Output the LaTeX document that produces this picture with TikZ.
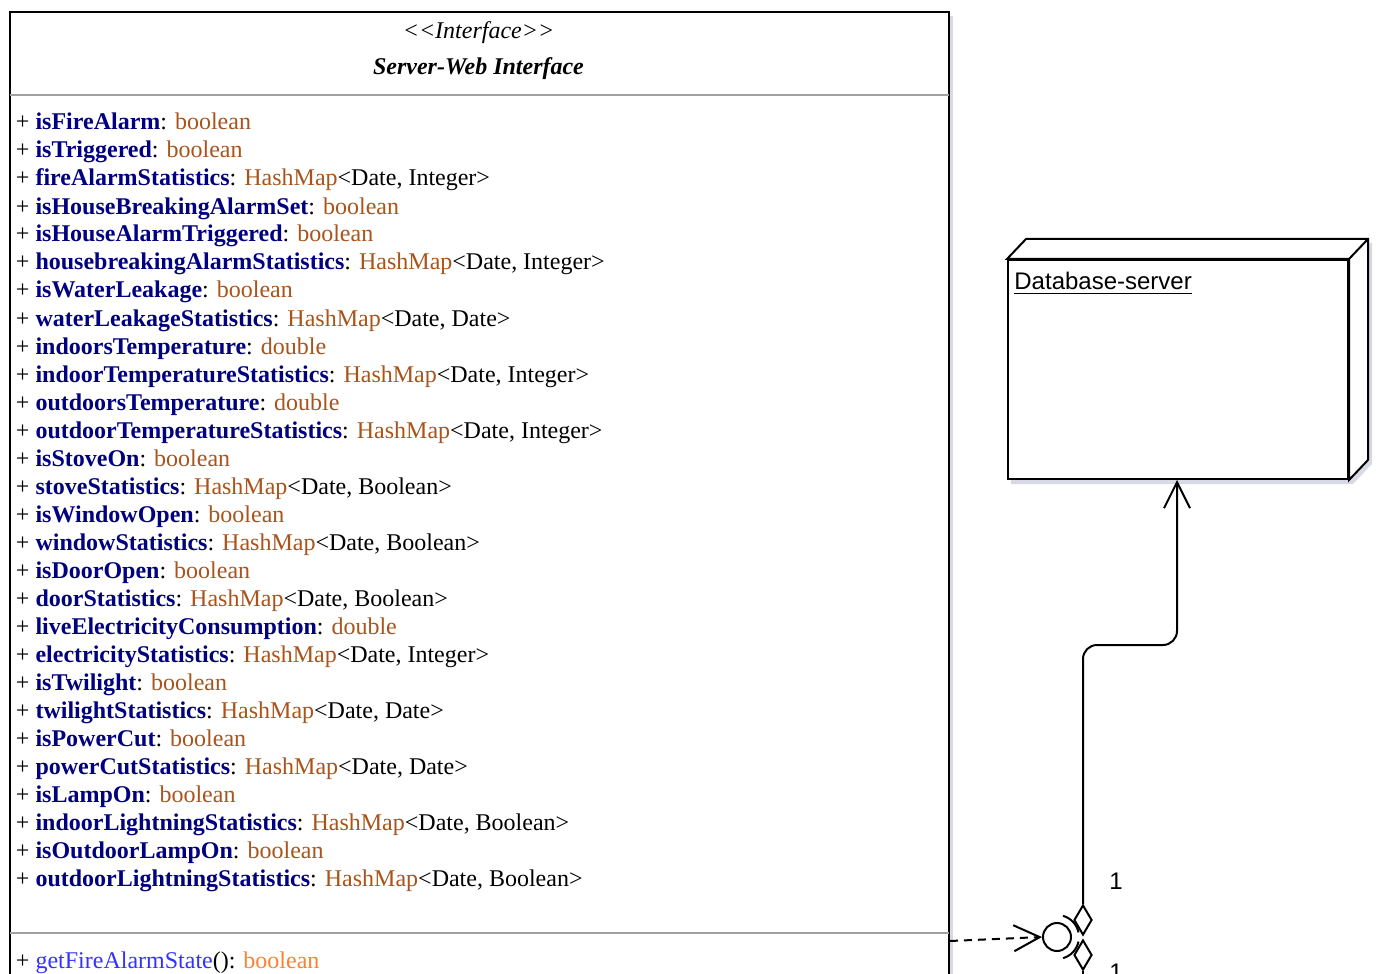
\documentclass[tikz,border=0pt]{standalone}
\usepackage{fontspec}
\setmainfont{Liberation Serif}[Ligatures=TeXOff]
\setsansfont{Liberation Sans}
\usetikzlibrary{shapes,arrows.meta,positioning,calc,shadows,backgrounds}

\definecolor{namecol}{RGB}{0,0,128}
\definecolor{typecol}{RGB}{168,84,28}
\definecolor{opcol}{RGB}{51,51,255}
\definecolor{retcol}{RGB}{255,128,51}
\definecolor{sepcol}{RGB}{160,160,160}
\definecolor{shadecol}{RGB}{190,192,210}

\newcommand{\nm}[1]{\textbf{\textcolor{namecol}{#1}}}
\newcommand{\ty}[1]{\textcolor{typecol}{#1}}

\tikzset{
  umlbox/.style={draw, line width=1pt, fill=white, inner sep=0pt},
  attr/.style={inner sep=0pt, outer sep=0pt, text height=10pt, text depth=4pt, font=\fontsize{12pt}{14pt}\selectfont},
  openhead/.style={-{Straight Barb[length=13pt, width=13pt]}},
  wire/.style={line width=1pt},
  mult/.style={font=\sffamily\fontsize{12pt}{14pt}\selectfont, inner sep=1pt, fill=white}
}

\begin{document}
\begin{tikzpicture}[x=0.5pt, y=-0.5pt, node distance=0pt]
    \useasboundingbox (0,0) rectangle (1394,974);

    % interface class
    \node [umlbox, anchor=north west, minimum width=469.5pt, minimum height=500pt,
           drop shadow={shadow xshift=2pt, shadow yshift=-2pt, fill=shadecol, opacity=0.6}] (iface) at (9,11) {};
    \node [font=\itshape\fontsize{12pt}{14pt}\selectfont] (stereo) at (478.5,33) {<<Interface>>};
    \node [font=\bfseries\itshape\fontsize{12pt}{14pt}\selectfont] (cname) at (478.5,69) {Server-Web Interface};
    \draw [sepcol, line width=1pt, shorten <=0.5pt, shorten >=0.5pt] (iface.west |- 0,95) -- (iface.east |- 0,95);

    \node [attr, anchor=north west] (a1) at (16,110) {+ \nm{isFireAlarm}: \ty{boolean}};
    \node [attr, below=of a1.south west, anchor=north west] (a2) {+ \nm{isTriggered}: \ty{boolean}};
    \node [attr, below=of a2.south west, anchor=north west] (a3) {+ \nm{fireAlarmStatistics}: \ty{HashMap}<Date, Integer>};
    \node [attr, below=of a3.south west, anchor=north west] (a4) {+ \nm{isHouseBreakingAlarmSet}: \ty{boolean}};
    \node [attr, below=of a4.south west, anchor=north west] (a5) {+ \nm{isHouseAlarmTriggered}: \ty{boolean}};
    \node [attr, below=of a5.south west, anchor=north west] (a6) {+ \nm{housebreakingAlarmStatistics}: \ty{HashMap}<Date, Integer>};
    \node [attr, below=of a6.south west, anchor=north west] (a7) {+ \nm{isWaterLeakage}: \ty{boolean}};
    \node [attr, below=of a7.south west, anchor=north west] (a8) {+ \nm{waterLeakageStatistics}: \ty{HashMap}<Date, Date>};
    \node [attr, below=of a8.south west, anchor=north west] (a9) {+ \nm{indoorsTemperature}: \ty{double}};
    \node [attr, below=of a9.south west, anchor=north west] (a10) {+ \nm{indoorTemperatureStatistics}: \ty{HashMap}<Date, Integer>};
    \node [attr, below=of a10.south west, anchor=north west] (a11) {+ \nm{outdoorsTemperature}: \ty{double}};
    \node [attr, below=of a11.south west, anchor=north west] (a12) {+ \nm{outdoorTemperatureStatistics}: \ty{HashMap}<Date, Integer>};
    \node [attr, below=of a12.south west, anchor=north west] (a13) {+ \nm{isStoveOn}: \ty{boolean}};
    \node [attr, below=of a13.south west, anchor=north west] (a14) {+ \nm{stoveStatistics}: \ty{HashMap}<Date, Boolean>};
    \node [attr, below=of a14.south west, anchor=north west] (a15) {+ \nm{isWindowOpen}: \ty{boolean}};
    \node [attr, below=of a15.south west, anchor=north west] (a16) {+ \nm{windowStatistics}: \ty{HashMap}<Date, Boolean>};
    \node [attr, below=of a16.south west, anchor=north west] (a17) {+ \nm{isDoorOpen}: \ty{boolean}};
    \node [attr, below=of a17.south west, anchor=north west] (a18) {+ \nm{doorStatistics}: \ty{HashMap}<Date, Boolean>};
    \node [attr, below=of a18.south west, anchor=north west] (a19) {+ \nm{liveElectricityConsumption}: \ty{double}};
    \node [attr, below=of a19.south west, anchor=north west] (a20) {+ \nm{electricityStatistics}: \ty{HashMap}<Date, Integer>};
    \node [attr, below=of a20.south west, anchor=north west] (a21) {+ \nm{isTwilight}: \ty{boolean}};
    \node [attr, below=of a21.south west, anchor=north west] (a22) {+ \nm{twilightStatistics}: \ty{HashMap}<Date, Date>};
    \node [attr, below=of a22.south west, anchor=north west] (a23) {+ \nm{isPowerCut}: \ty{boolean}};
    \node [attr, below=of a23.south west, anchor=north west] (a24) {+ \nm{powerCutStatistics}: \ty{HashMap}<Date, Date>};
    \node [attr, below=of a24.south west, anchor=north west] (a25) {+ \nm{isLampOn}: \ty{boolean}};
    \node [attr, below=of a25.south west, anchor=north west] (a26) {+ \nm{indoorLightningStatistics}: \ty{HashMap}<Date, Boolean>};
    \node [attr, below=of a26.south west, anchor=north west] (a27) {+ \nm{isOutdoorLampOn}: \ty{boolean}};
    \node [attr, below=of a27.south west, anchor=north west] (a28) {+ \nm{outdoorLightningStatistics}: \ty{HashMap}<Date, Boolean>};

    \draw [sepcol, line width=1pt, shorten <=0.5pt, shorten >=0.5pt] (iface.west |- 0,933) -- (iface.east |- 0,933);
    \node [attr, below=27pt of a28.south west, anchor=north west] (op1) {+ \textcolor{opcol}{getFireAlarmState}(): \textcolor{retcol}{boolean}};

    % database node
    \node [umlbox, anchor=north west, minimum width=170pt, minimum height=109.5pt] (db) at (1007,259) {};
    \node [font=\sffamily\fontsize{12pt}{14pt}\selectfont, anchor=base west, inner sep=0pt] (dbname) at (1014,290) {\underline{Database-server}};
    \draw [wire, fill=white] (db.north west) -- ++(19,-20) -- ($(db.north east)+(19,-20)$)
        -- ($(db.south east)+(19,-20)$) -- (db.south east) -- (db.north east) -- cycle;
    \draw [wire] (db.north east) -- ++(19,-20);
    \begin{scope}[on background layer]
        \fill [shadecol, opacity=0.6] ($(db.north west)+(4,4)$) -- ($(db.north west)+(23,-16)$)
            -- ($(db.north east)+(23,-16)$) -- ($(db.south east)+(23,-16)$)
            -- ($(db.south east)+(4,4)$) -- ($(db.south west)+(4,4)$) -- cycle;
    \end{scope}

    % lollipop, socket and aggregations
    \node [circle, draw, wire, fill=white, minimum size=14pt, inner sep=0pt] (lolli) at (1057,937) {};
    \node [diamond, draw, wire, fill=white, minimum width=9pt, minimum height=15pt, inner sep=0pt] (agg1) at (1083,920) {};
    \node [diamond, draw, wire, fill=white, minimum width=9pt, minimum height=15pt, inner sep=0pt] (agg2) at (1083,955) {};
    \draw [wire] (lolli.center) ++(74:11pt) arc [start angle=74, end angle=12, radius=11pt];
    \draw [wire] (lolli.center) ++(-12:11pt) arc [start angle=-12, end angle=-74, radius=11pt];

    \node [mult] (m1) at (1116,881) {1};
    \node [mult] (m2) at (1116,972) {1};

    \coordinate (dbin) at (db.south -| 1177,0);
    \coordinate (bend) at (1177,645);
    \coordinate (ifout) at (iface.east |- 0,941);
    \coordinate (lowend) at (1083,990);

    \draw [wire, openhead, rounded corners=7pt] (agg1.north) |- (bend) -- (dbin);
    \draw [wire, openhead, dash pattern=on 4pt off 3pt] (ifout) -- (lolli.west);
    \draw [wire] (agg2.south) -- (lowend);
\end{tikzpicture}
\end{document}
